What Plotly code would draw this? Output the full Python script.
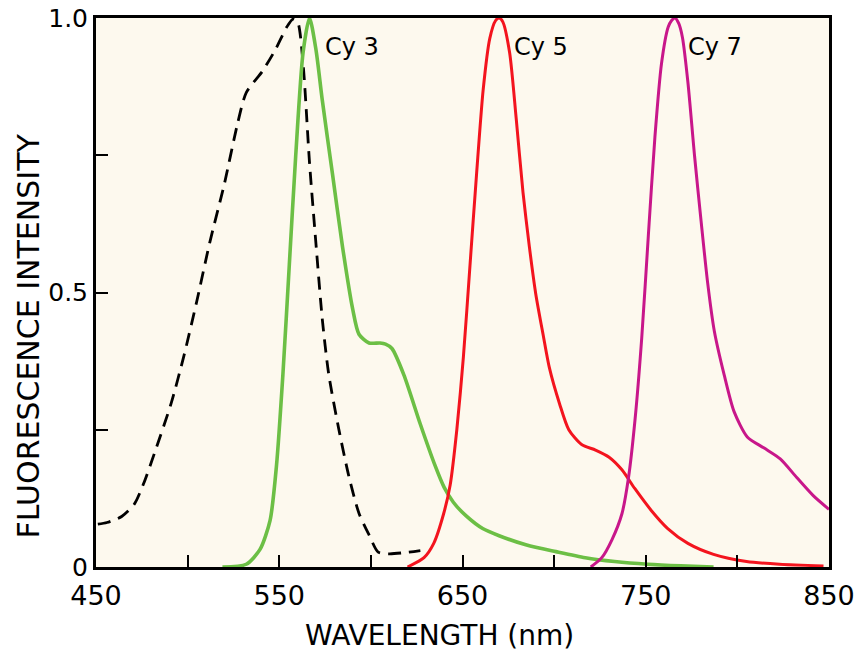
import plotly.graph_objects as go

# ---- data ----
abs_wl = [451, 456, 464, 471, 476, 483, 491, 498, 505, 512, 520, 527, 532, 541, 548, 554,
          557.5, 560, 563, 566.5, 570, 573.5, 577, 582.5, 588, 593.5, 599, 604, 610, 618, 627]
abs_cy3 = [0.078, 0.081, 0.092, 0.115, 0.152, 0.218, 0.298, 0.385, 0.484, 0.59, 0.697, 0.804,
           0.864, 0.904, 0.943, 0.983, 0.998, 0.993, 0.917, 0.737, 0.59, 0.451, 0.351, 0.251,
           0.165, 0.098, 0.0585, 0.027, 0.024, 0.026, 0.03]

cy3_wl = [519, 532, 539.5, 545, 548.5, 552, 555.5, 559, 563, 566.5, 570, 573.5, 579, 584.5,
          590, 593.5, 599, 605, 608, 611.5, 618, 627, 635, 640, 645, 652, 661, 670, 685, 701,
          717, 733, 751, 769, 787]
cy3_em = [0.0, 0.005, 0.032, 0.085, 0.185, 0.351, 0.551, 0.75, 0.937, 1.0, 0.943, 0.85, 0.717,
          0.584, 0.471, 0.424, 0.408, 0.408, 0.406, 0.398, 0.35, 0.26, 0.185, 0.145, 0.118,
          0.093, 0.07, 0.057, 0.04, 0.028, 0.017, 0.01, 0.005, 0.002, 0.0]

cy5_wl = [620, 629, 634.3, 639.7, 643.3, 646.9, 650.5, 654.1, 657.7, 661.3, 664.9, 668, 670,
          672, 675.7, 679.3, 683, 686.5, 690, 694, 697.4, 703, 708, 715, 722.6, 730, 737, 744,
          753, 762, 773, 787, 805, 823, 847]
cy5_em = [0.0, 0.017, 0.043, 0.097, 0.15, 0.25, 0.383, 0.55, 0.717, 0.87, 0.963, 0.995, 1.0,
          0.993, 0.937, 0.817, 0.683, 0.583, 0.497, 0.423, 0.363, 0.297, 0.25, 0.223, 0.213,
          0.2, 0.177, 0.143, 0.103, 0.07, 0.043, 0.023, 0.01, 0.005, 0.002]

cy7_wl = [720, 726, 731.6, 737, 740.6, 744.2, 747.8, 751.4, 755, 758.6, 762.2, 764, 766, 768,
          770, 773, 776.6, 780.2, 783.8, 787.4, 792.8, 798.2, 805.4, 814.4, 823.4, 832.4, 841.4, 850]
cy7_em = [0.0, 0.017, 0.05, 0.097, 0.163, 0.27, 0.417, 0.603, 0.783, 0.917, 0.983, 0.995, 1.0,
          0.99, 0.965, 0.883, 0.75, 0.63, 0.517, 0.43, 0.35, 0.283, 0.237, 0.217, 0.197, 0.163,
          0.13, 0.105]

x_ticks = [450, 500, 550, 600, 650, 700, 750, 800, 850]
x_tick_text = ["450", "", "550", "", "650", "", "750", "", "850"]
y_ticks = [0, 0.25, 0.5, 0.75, 1.0]
y_tick_text = ["0", "", "0.5", "", "1.0"]

labels = ["Cy 3", "Cy 5", "Cy 7"]
label_wl = [574, 677, 772]
label_y = [0.947, 0.947, 0.947]

FONT = "DejaVu Sans"

fig = go.Figure()
fig.add_trace(go.Scatter(x=abs_wl, y=abs_cy3, mode="lines",
                         line=dict(color="black", width=2.8, dash="13px,8px",
                                   shape="spline", smoothing=0.7)))
fig.add_trace(go.Scatter(x=cy3_wl, y=cy3_em, mode="lines",
                         line=dict(color="#6cbf45", width=3.6, shape="spline", smoothing=0.7)))
fig.add_trace(go.Scatter(x=cy5_wl, y=cy5_em, mode="lines",
                         line=dict(color="#f3141e", width=3.0, shape="spline", smoothing=0.7)))
fig.add_trace(go.Scatter(x=cy7_wl, y=cy7_em, mode="lines",
                         line=dict(color="#c8178a", width=3.0, shape="spline", smoothing=0.7)))

for t, xv, yv in zip(labels, label_wl, label_y):
    fig.add_annotation(x=xv, y=yv, text=t, showarrow=False, xanchor="left", yanchor="middle",
                       font=dict(family=FONT, size=24, color="black"))

fig.add_annotation(x=0.469, y=0, xref="paper", yref="paper", yshift=-68,
                   text="WAVELENGTH (nm)", showarrow=False, xanchor="center", yanchor="middle",
                   font=dict(family=FONT, size=28, color="black"))
fig.add_annotation(x=0, y=0.42, xref="paper", yref="paper", xshift=-68,
                   text="FLUORESCENCE INTENSITY", showarrow=False, textangle=-90,
                   xanchor="center", yanchor="middle",
                   font=dict(family=FONT, size=30, color="black"))

fig.update_layout(
    width=860, height=651,
    margin=dict(l=96, r=31, t=18, b=84, autoexpand=False),
    paper_bgcolor="white",
    plot_bgcolor="#fdf9ee",
    showlegend=False,
    font=dict(family=FONT, color="black"),
)
fig.update_xaxes(range=[450, 850], tickvals=x_ticks, ticktext=x_tick_text,
                 ticks="inside", ticklen=12, tickwidth=2, tickcolor="black",
                 showline=True, linecolor="black", linewidth=3, mirror=True,
                 showgrid=False, zeroline=False, ticklabelstandoff=3, automargin=False,
                 ticklabeloverflow="allow",
                 tickfont=dict(family=FONT, size=27, color="black"))
fig.update_yaxes(range=[0, 1.0], tickvals=y_ticks, ticktext=y_tick_text,
                 ticks="inside", ticklen=12, tickwidth=2, tickcolor="black",
                 showline=True, linecolor="black", linewidth=3, mirror=True,
                 showgrid=False, zeroline=False, ticklabelstandoff=0, automargin=False,
                 ticklabeloverflow="allow",
                 tickfont=dict(family=FONT, size=25, color="black"))

# remove the page's default body margin so the figure fills the window exactly
fig.write_html("out.html", config={"displayModeBar": False},
               post_script="document.body.style.margin='0';")
